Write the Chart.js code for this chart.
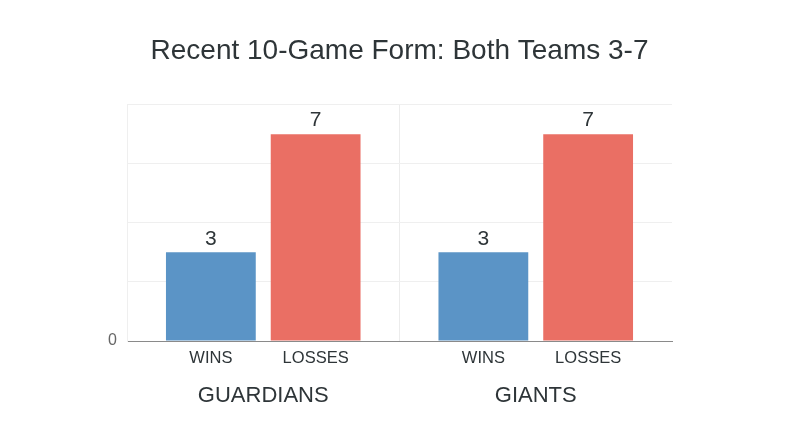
<!DOCTYPE html>
<html>
<head>
<meta charset="utf-8">
<title>Recent 10-Game Form</title>
<script src="https://cdn.jsdelivr.net/npm/chart.js@4"></script>
<style>
  html, body { margin: 0; padding: 0; background: #fff; }
  #wrap { width: 800px; height: 447px; }
</style>
</head>
<body>
<div id="wrap"><canvas id="formChart" width="800" height="447"></canvas></div>
<script>
// data
const teams = ['GUARDIANS', 'GIANTS'];
const outcomes = ['WINS', 'LOSSES'];
const wins = [3, 3];
const losses = [7, 7];
const yMax = 8;
const yStep = 2;

const FONT = "'Liberation Sans', Arial, Helvetica, sans-serif";
const TEXT = '#2e3538';

// draws the value above each bar and the outcome name under it
const barLabels = {
  id: 'barLabels',
  afterDatasetsDraw(chart) {
    const ctx = chart.ctx;
    const area = chart.chartArea;
    ctx.save();
    ctx.fillStyle = TEXT;
    ctx.textAlign = 'center';
    chart.data.datasets.forEach((ds, i) => {
      const meta = chart.getDatasetMeta(i);
      meta.data.forEach((bar, j) => {
        ctx.font = '21px ' + FONT;
        ctx.textBaseline = 'bottom';
        ctx.fillText(String(ds.data[j]), bar.x, bar.y - 3);
        ctx.font = '16.5px ' + FONT;
        ctx.textBaseline = 'middle';
        ctx.fillText(ds.label, bar.x, area.bottom + 17);
      });
    });
    ctx.restore();
  }
};

const ctx = document.getElementById('formChart').getContext('2d');
new Chart(ctx, {
  type: 'bar',
  data: {
    labels: teams,
    datasets: [
      { label: outcomes[0], data: wins, backgroundColor: '#5b94c6' },
      { label: outcomes[1], data: losses, backgroundColor: '#ea6f64' }
    ]
  },
  options: {
    responsive: false,
    animation: false,
    categoryPercentage: 0.769,
    barPercentage: 0.857,
    layout: { padding: { left: 127, right: 128, top: 0, bottom: 38 } },
    plugins: {
      legend: { display: false },
      tooltip: { enabled: false },
      title: {
        display: true,
        text: 'Recent 10-Game Form: Both Teams 3-7',
        color: TEXT,
        font: { family: FONT, size: 28, weight: 'normal' },
        padding: { top: 34, bottom: 37 }
      }
    },
    scales: {
      x: {
        offset: true,
        grid: {
          offset: true,
          drawTicks: false,
          // no line on the far right edge
          color: (c) => (c.type === 'tick' ? '#ececec' : 'rgba(0,0,0,0)')
        },
        border: { display: true, color: '#8a8a8a', width: 1 },
        ticks: {
          color: TEXT,
          padding: 42,
          font: { family: FONT, size: 22 }
        },
        afterFit: (scale) => { scale.height = 68; }
      },
      y: {
        min: 0,
        max: yMax,
        grid: { color: '#efefef', drawTicks: false },
        border: { display: true, color: '#efefef' },
        ticks: {
          stepSize: yStep,
          mirror: true,
          crossAlign: 'near',
          padding: -19,
          color: '#666',
          font: { family: FONT, size: 16 },
          callback: (v) => (v === 0 ? '0' : '')
        },
        // tick label sits in the left padding so the title stays centred
        afterFit: (scale) => { scale.width = 0; }
      }
    }
  },
  plugins: [barLabels]
});
</script>
</body>
</html>
